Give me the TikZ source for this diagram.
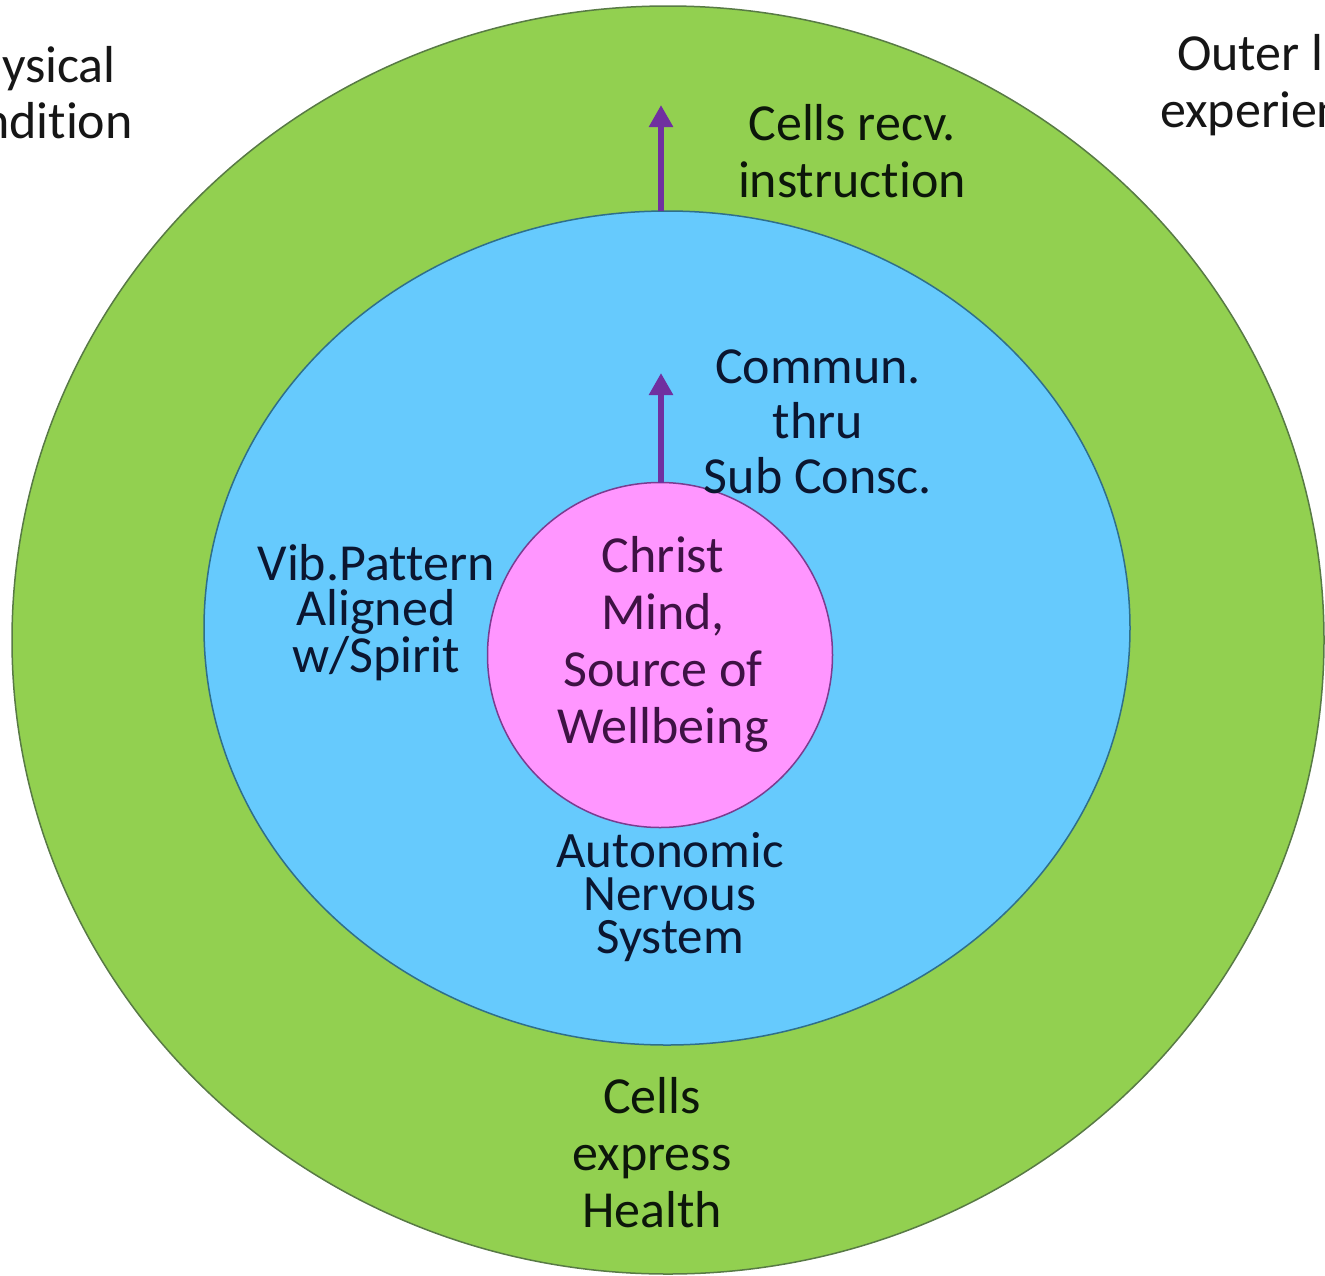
\documentclass[tikz,border=0pt]{standalone}
\usepackage{fontspec}
\setmainfont{Carlito}[Ligatures=NoCommon]
\usetikzlibrary{shapes.geometric,arrows.meta}
\definecolor{ringgreen}{HTML}{92D050}
\definecolor{greenedge}{HTML}{587A45}
\definecolor{ringblue}{HTML}{66CAFD}
\definecolor{blueedge}{HTML}{2F6F8A}
\definecolor{corepink}{HTML}{FF96FF}
\definecolor{pinkedge}{HTML}{7A3C90}
\definecolor{arrowpurple}{HTML}{7030A0}
\definecolor{greentext}{HTML}{0C160A}
\definecolor{bluetext}{HTML}{0B1630}
\definecolor{pinktext}{HTML}{3E1244}
\definecolor{outtext}{HTML}{161616}
\begin{document}
\begin{tikzpicture}[x=1pt,y=-1pt,
  ring/.style={inner sep=0pt, outer sep=0pt, line width=1.5pt},
  lbl/.style={align=center, inner sep=0pt, anchor=base, font=\fontsize{52}{57}\selectfont},
  lbltight/.style={lbl, font=\fontsize{52}{45}\selectfont},
  lblauto/.style={lbl, font=\fontsize{51}{43}\selectfont},
  side/.style={inner sep=0pt, font=\fontsize{52}{56}\selectfont, text=outtext},
  flow/.style={draw=arrowpurple, line width=6pt, -{Triangle[width=23pt,length=22pt]}}]
\useasboundingbox (0,0) rectangle (1325,1275);
\clip (0,0) rectangle (1325,1275);
\fill[white] (0,0) rectangle (1325,1275);

% rings
\node[ring, ellipse, draw=greenedge, fill=ringgreen, minimum width=1312pt, minimum height=1268pt] (outer) at (668,640) {};
\node[ring, ellipse, draw=blueedge, fill=ringblue, minimum width=926pt, minimum height=834pt] (inner) at (667,628) {};
\node[ring, circle, draw=pinkedge, fill=corepink, minimum size=345pt] (core) at (660,655) {};

% arrows
\coordinate (tipA) at (661,105);
\coordinate (tipB) at (661,373);
\draw[flow] (tipA |- inner.north) -- (tipA);
\draw[flow] (tipB |- core.north) -- (tipB);

% labels (anchored at the baseline of their last line)
\node[lbl, text=greentext] (recv) at (852,197) {Cells recv.\\instruction};
\node[lbl, text=bluetext, font=\fontsize{52}{55}\selectfont] (commun) at (818,493) {Commun.\\thru\\Sub Consc.};
\node[lbl, text=pinktext] (christ) at (663,743) {Christ\\Mind,\\Source of\\Wellbeing};
\node[lbltight, text=bluetext] (vib) at (376,672) {Vib.Pattern\\Aligned\\w/Spirit};
\node[lblauto, text=bluetext] (auto) at (670,953) {Autonomic\\Nervous\\System};
\node[lbl, text=greentext] (health) at (652,1227) {Cells\\express\\Health};

% cropped outside labels
\node[side, anchor=base east] (phys1) at (116,82) {ysical};
\node[side, anchor=base east] (phys2) at (133,138) {ndition};
\node[side, anchor=base west] (out1) at (1177,70) {Outer l};
\node[side, anchor=base west] (out2) at (1160,127) {experien};
\end{tikzpicture}
\end{document}
